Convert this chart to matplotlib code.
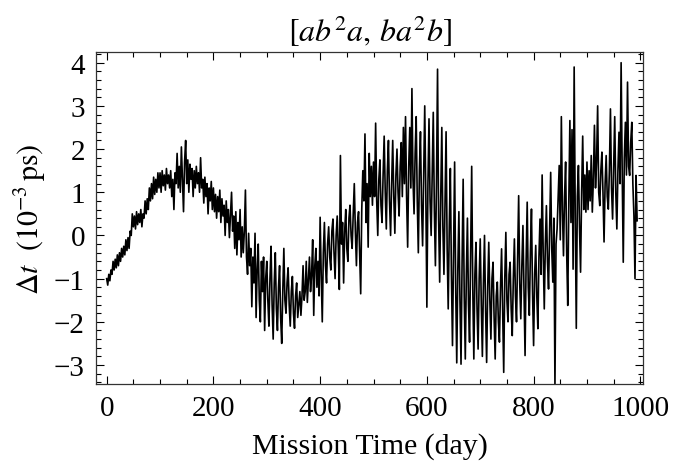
import numpy as np
import matplotlib
matplotlib.use("Agg")
import matplotlib.pyplot as plt
from matplotlib.ticker import MultipleLocator

# Valores (10^-3 ps), un punto cada 2 días
dt_000 = [-1.0, -1.15, -0.9, -1.05, -0.8, -0.9, -0.6, -0.8, -0.55, -0.75,
          -0.45, -0.7, -0.4, -0.6, -0.3, -0.5, -0.25, -0.45, -0.1, -0.35,
          -0.05, -0.3, 0.1, 0.0, 0.5, 0.2, 0.45, 0.15, 0.55, 0.25,
          0.5, 0.3, 0.6, 0.2, 0.5, 0.4, 0.8, 0.5, 0.85, 0.6,
          1.1, 0.8, 1.2, 0.85, 1.35, 0.95, 1.3, 1.0, 1.45, 1.1]
dt_100 = [1.45, 1.0, 1.5, 1.15, 1.4, 1.05, 1.55, 1.2, 1.4, 1.1,
          1.5, 0.9, 1.3, 0.6, 1.45, 1.2, 1.9, 1.1, 1.6, 1.0,
          2.05, 1.3, 0.55, 1.7, 2.2, 1.2, 1.75, 1.0, 1.65, 1.3,
          1.55, 0.9, 1.5, 1.1, 1.6, 1.2, 1.45, 1.0, 1.8, 1.1,
          1.3, 0.75, 1.35, 0.9, 1.2, 0.5, 1.1, 0.8, 1.25, 0.6]
dt_200 = [1.1, 0.55, 0.95, 0.4, 0.9, 0.55, 1.05, 0.3, 0.85, 0.45,
          0.7, 0.0, 0.8, 0.3, 0.6, -0.05, 0.5, 1.0, 0.1, 0.45,
          -0.3, 0.55, -0.45, 0.3, -0.1, 0.6, -0.5, 0.2, -0.4, 0.1,
          1.05, -0.5, -0.9, 0.05, -0.7, -0.3, -1.65, -0.5, -1.1, 0.05,
          -1.9, -0.8, -0.2, -1.5, -2.0, -0.6, -1.3, -0.5, -2.2, -1.0]
dt_300 = [-0.6, -1.5, -2.1, -1.0, -0.25, -1.6, -2.4, -1.1, -0.4, -1.7,
          -2.2, -1.2, -0.7, -1.9, -2.5, -1.3, -0.3, -1.5, -1.8, -1.1,
          -0.75, -1.6, -2.1, -1.3, -0.95, -1.8, -2.15, -1.4, -1.1, -1.9,
          -1.6, -1.3, -1.85, -1.4, -0.7, -1.5, -1.3, -0.6, -1.55, -1.0,
          -0.5, -1.3, -0.9, -0.1, -1.85, -0.7, -0.3, -1.2, -0.6, -1.4]
dt_400 = [0.42, -0.9, -2.0, -0.4, 0.3, -0.7, -1.1, -0.2, 0.2, -0.5,
          -0.8, 0.1, 0.38, -0.4, -1.0, 0.0, 0.45, -0.3, -1.25, 1.85,
          -0.2, 0.3, -1.1, 0.1, 0.6, -0.3, -0.6, 0.4, 0.7, 0.0,
          -0.3, 0.5, 1.2, 0.1, -0.7, 0.3, 0.55, -0.4, -1.35, 0.6,
          1.5, 0.8, 2.35, 0.3, 1.2, -0.27, 1.9, 0.9, 1.6, 0.7]
dt_500 = [1.7, 0.9, 2.6, 0.8, 0.0, 1.3, 1.75, 0.7, 0.3, 1.4,
          2.3, 1.0, 0.15, 1.5, 2.2, 0.8, 0.0, 1.2, 2.2, 0.9,
          0.05, 1.4, 2.0, 1.0, 0.45, 1.6, 2.15, 0.9, 2.5, 1.2,
          2.75, 0.9, -0.27, 1.6, 2.5, 1.1, 3.4, 1.3, 0.5, 1.9,
          2.75, 0.8, -0.4, 1.5, 2.4, 0.7, -0.24, 1.3, 3.0, 1.0]
dt_600 = [-1.66, 1.2, 2.7, 0.8, 0.0, 1.5, 2.85, 0.6, -0.7, 1.2,
          3.85, 0.4, -1.08, 0.9, 2.5, 0.2, -0.9, 0.8, 2.4, -0.3,
          -1.7, 0.2, 1.55, -0.9, -2.55, -0.4, 1.7, -1.2, -2.95, -0.8,
          0.55, -1.5, -2.98, -0.6, 1.3, -1.4, -2.86, -0.9, 0.4, -1.6,
          -2.47, -0.5, 1.6, -1.2, -2.86, -0.9, -0.16, -1.7, -2.63, -1.0]
dt_700 = [-0.08, -1.6, -2.8, -1.1, 0.0, -1.7, -2.94, -1.2, -0.16, -1.5,
          -2.4, -1.0, -0.62, -1.9, -2.86, -1.4, -1.08, -2.0, -2.47, -1.2,
          -0.31, -1.8, -3.17, -1.0, 0.07, -1.5, -2.0, -0.9, -0.62, -1.7,
          -2.32, -1.0, -0.08, -1.4, -2.0, -0.6, 0.92, -1.1, -1.93, -0.7,
          0.23, -1.3, -2.78, -0.6, 0.77, -1.2, -1.85, -0.4, 0.61, -1.3]
dt_800 = [-2.55, -0.9, -0.23, -1.4, -2.16, -0.5, 0.38, -0.9, 1.4, -0.4,
          -1.7, -0.2, 0.69, -0.6, -1.24, 0.1, 1.46, -0.3, -1.08, 0.4,
          -3.48, -0.2, 0.15, 0.9, 1.62, -0.1, 2.75, 0.6, -0.47, 0.9,
          1.7, -0.4, -1.62, 0.8, 2.66, 0.3, 2.45, -0.78, 3.9, 0.5,
          -2.15, 0.9, 1.62, 0.2, -0.85, 1.0, 2.3, 0.6, 1.4, 0.54]
dt_900 = [1.7, 0.6, 1.5, 0.8, 1.85, 0.54, 1.3, 2.55, 1.1, 1.7,
          3.0, 1.0, 0.69, 1.5, 1.93, 1.0, -0.15, 1.2, 1.85, 0.9,
          0.61, 1.5, 2.93, 1.1, 0.38, 1.6, 2.75, 1.0, 0.15, 1.5,
          2.39, 1.2, 4.0, 1.5, -0.62, 1.8, 2.62, 1.4, 3.55, 1.6,
          1.39, 2.16, 2.62, 1.2, 0.46, -1.0, 1.39, 0.34]

valores = (dt_000 + dt_100 + dt_200 + dt_300 + dt_400 +
           dt_500 + dt_600 + dt_700 + dt_800 + dt_900)
dias = np.arange(len(valores)) * 2

plt.rcParams['font.family'] = 'serif'
plt.rcParams['font.serif'] = ['Liberation Serif', 'DejaVu Serif']
plt.rcParams['mathtext.fontset'] = 'stix'

fig = plt.figure(figsize=(6.73, 4.77), dpi=100)
ax = fig.add_axes([96 / 673, 1 - 385 / 477, (643 - 96) / 673, (385 - 52.7) / 477])

ax.plot(dias, valores, color='black', linewidth=1.2)

ax.set_xlim(-20, 1005)
ax.set_ylim(-3.44, 4.255)
ax.xaxis.set_major_locator(MultipleLocator(200))
ax.xaxis.set_minor_locator(MultipleLocator(50))
ax.yaxis.set_major_locator(MultipleLocator(1))
ax.yaxis.set_minor_locator(MultipleLocator(0.2))
ax.tick_params(which='both', direction='in', top=True, right=True,
               labelsize=21, width=0.8)
ax.tick_params(which='major', length=6, pad=8)
ax.tick_params(which='minor', length=3.5)
for s in ax.spines.values():
    s.set_linewidth(0.9)
    s.set_color('#333333')

ax.set_xlabel('Mission Time (day)', fontsize=21.5, labelpad=8)
ax.set_ylabel(r'$\Delta t\ \ (10^{-3}\,\mathrm{ps})$', fontsize=21.5, labelpad=4)
ax.set_title(r'$[ab^2a,\, ba^2b]$', fontsize=23, pad=8)

fig.savefig('out.png', dpi=100)
